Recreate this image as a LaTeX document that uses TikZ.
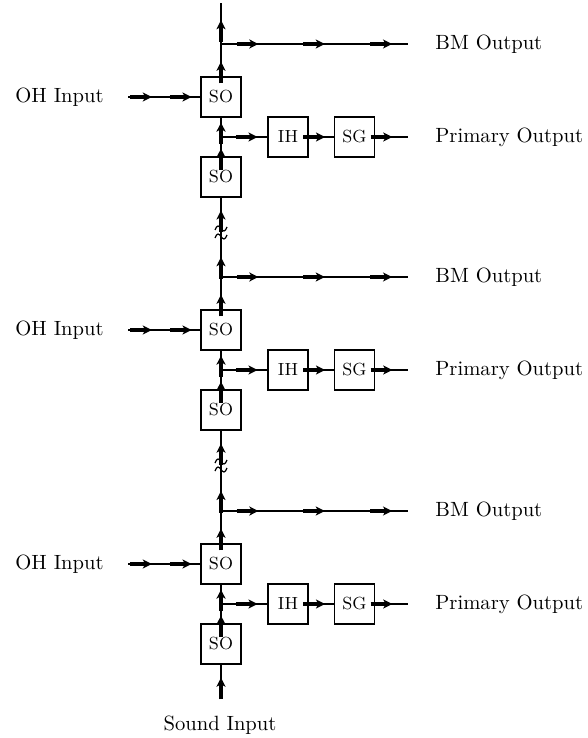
\documentclass[tikz,border=0pt]{standalone}
\usetikzlibrary{arrows.meta,decorations.markings}
\begin{document}
\begin{tikzpicture}[x=0.485pt,y=-0.485pt,
  box/.style={draw, line width=0.75pt, minimum size=19.4pt, inner sep=0pt, font=\fontsize{8.5}{10}\selectfont},
  lbl/.style={font=\normalsize, inner sep=0pt},
  conn/.style={line width=0.75pt},
  ar/.style={postaction={decorate, decoration={markings, mark=at position #1 with {%
      \pgfsetlinewidth{1.5pt}\pgfsetbuttcap
      \pgfpathmoveto{\pgfpoint{-10.5pt}{0pt}}\pgfpathlineto{\pgfpoint{-2pt}{0pt}}\pgfusepath{stroke}
      \arrow{Stealth[length=4.4pt, width=4.4pt, inset=1.2pt]}}}}},
  tilde/.style={line width=0.6pt},
]
\useasboundingbox (0,0) rectangle (587,738);

\foreach \k/\dy in {0/0,1/233,2/467} {
  \node[box] (SOa\k) at (221,97+\dy) {SO};
  \node[box] (SOb\k) at (221,177+\dy) {SO};
  \node[box] (IH\k) at (288,137+\dy) {IH};
  \node[box] (SG\k) at (354.5,137+\dy) {SG};
  \coordinate (bm\k) at (221,44+\dy);
  \coordinate (bme\k) at (408,44+\dy);
  \coordinate (pb\k) at (221,137+\dy);
  \coordinate (pe\k) at (408,137+\dy);
  \coordinate (oh\k) at (128,97+\dy);
  \node[lbl, anchor=west] (ohl\k) at (15,97+\dy) {OH Input};
  \node[lbl, anchor=west] (bml\k) at (435,44+\dy) {BM Output};
  \node[lbl, anchor=west] (pol\k) at (435,137+\dy) {Primary Output};
  % connectors
  \draw[conn, ar=0.2, ar=0.555, ar=0.915] (bm\k) -- (bme\k);
  \draw[conn, ar=0.45] (SOa\k.north) -- (bm\k);
  \draw[conn, ar=0.33, ar=0.88] (oh\k) -- (SOa\k.west);
  \draw[conn, ar=0.4] (SOb\k.north) -- (pb\k);
  \draw[conn, ar=0.75] (pb\k) -- (SOa\k.south);
  \draw[conn, ar=0.79] (pb\k) -- (IH\k.west);
  \draw[conn, ar=0.65] (IH\k.east) -- (SG\k.west);
  \draw[conn, ar=0.52] (SG\k.east) -- (pe\k);
}

\coordinate (top) at (221,3);
\draw[conn, ar=0.58] (bm0) -- (top);

\foreach \k/\n/\dy in {0/1/0,1/2/233} {
  \draw[conn, ar=0.25, ar=0.84] (bm\n) -- (SOb\k.south);
  \pgfmathsetmacro{\sa}{228.5+\dy}
  \pgfmathsetmacro{\sb}{236.5+\dy}
  \foreach \c in {\sa,\sb} {
    \draw[tilde] (215,\c+1.5) .. controls (217,\c-4) and (219,\c-3) .. (221,\c)
                 .. controls (223,\c+3) and (225,\c+4) .. (227,\c-1.5);
  }
}

\coordinate (sin) at (221,697);
\draw[conn, ar=0.6] (sin) -- (SOb2.south);
\node[lbl] (soundin) at (220,725) {Sound Input};
\end{tikzpicture}
\end{document}
